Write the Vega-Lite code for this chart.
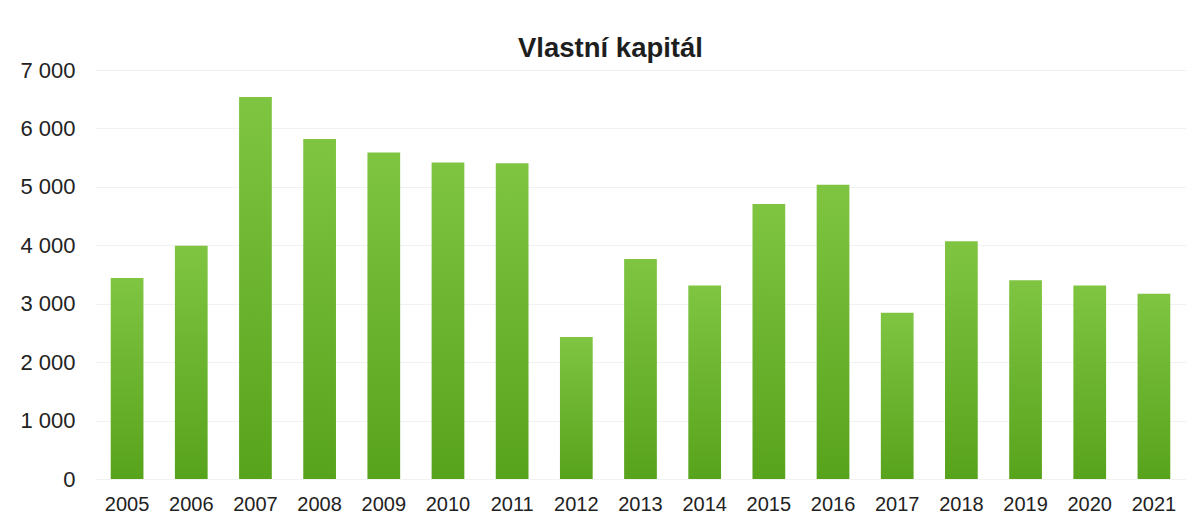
{
  "$schema": "https://vega.github.io/schema/vega-lite/v6.json",
  "width": 1091,
  "height": 409,
  "autosize": {"type": "none"},
  "padding": {"left": 95, "top": 70, "right": 17, "bottom": 38},
  "background": "white",
  "title": {
    "text": "Vlastní kapitál",
    "font": "Liberation Sans",
    "fontSize": 27.5,
    "fontWeight": "bold",
    "color": "#1e1e1e",
    "anchor": "middle",
    "frame": "group",
    "dx": -30,
    "dy": 15,
    "offset": 12
  },
  "data": {
    "values": [
      {"rok": "2005", "hodnota": 3440},
      {"rok": "2006", "hodnota": 3990},
      {"rok": "2007", "hodnota": 6540},
      {"rok": "2008", "hodnota": 5820},
      {"rok": "2009", "hodnota": 5590},
      {"rok": "2010", "hodnota": 5415},
      {"rok": "2011", "hodnota": 5405},
      {"rok": "2012", "hodnota": 2430},
      {"rok": "2013", "hodnota": 3765},
      {"rok": "2014", "hodnota": 3310},
      {"rok": "2015", "hodnota": 4705},
      {"rok": "2016", "hodnota": 5035},
      {"rok": "2017", "hodnota": 2845},
      {"rok": "2018", "hodnota": 4070},
      {"rok": "2019", "hodnota": 3400},
      {"rok": "2020", "hodnota": 3310},
      {"rok": "2021", "hodnota": 3170}
    ]
  },
  "mark": {
    "type": "bar",
    "color": {
      "gradient": "linear",
      "x1": 0, "y1": 0, "x2": 0, "y2": 1,
      "stops": [
        {"offset": 0, "color": "#7fc542"},
        {"offset": 1, "color": "#58a31c"}
      ]
    }
  },
  "encoding": {
    "x": {
      "field": "rok",
      "type": "ordinal",
      "scale": {"paddingInner": 0.49, "paddingOuter": 0.245},
      "axis": {
        "title": null,
        "labelAngle": 0,
        "domain": false,
        "ticks": false,
        "labelPadding": 15,
        "labelFont": "Liberation Sans",
        "labelFontSize": 20,
        "labelColor": "#222222"
      }
    },
    "y": {
      "field": "hodnota",
      "type": "quantitative",
      "scale": {"domain": [0, 7000], "nice": false},
      "axis": {
        "title": null,
        "values": [0, 1000, 2000, 3000, 4000, 5000, 6000, 7000],
        "labelExpr": "replace(format(datum.value, ','), regexp(',', 'g'), ' ')",
        "domain": false,
        "ticks": false,
        "labelPadding": 20,
        "labelFont": "Liberation Sans",
        "labelFontSize": 22,
        "labelColor": "#222222",
        "grid": true,
        "gridColor": "#f1f1f1",
        "gridWidth": 1
      }
    }
  },
  "config": {
    "view": {"stroke": null}
  }
}
